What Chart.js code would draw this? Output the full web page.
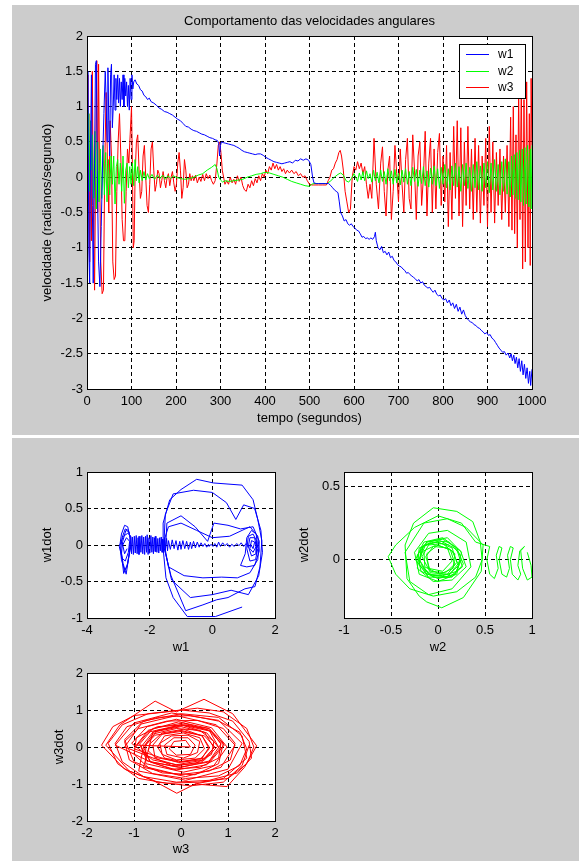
<!DOCTYPE html>
<html>
<head>
<meta charset="utf-8">
<script src="https://cdn.jsdelivr.net/npm/chart.js@4.4.1/dist/chart.umd.min.js"></script>
<style>
  body { margin: 0; background: #fff; width: 579px; height: 861px; overflow: hidden; position: relative; }
  .fig { position: absolute; background: #cccccc; }
  canvas { position: absolute; }
</style>
</head>
<body>
<div class="fig" style="left:12px;top:5px;width:567px;height:430px"></div>
<div class="fig" style="left:12px;top:438px;width:567px;height:423px"></div>
<canvas id="cTempo" width="567" height="430" style="left:12px;top:5px"></canvas>
<canvas id="cW1" width="280" height="222" style="left:12px;top:438px"></canvas>
<canvas id="cW2" width="289" height="222" style="left:290px;top:438px"></canvas>
<canvas id="cW3" width="280" height="200" style="left:12px;top:661px"></canvas>
<script>
// velocidades angulares no tempo: [tempo (s), w (rad/s)]
const w1Serie = [
  [0,0.9],[2,1.5],[4,-1.0],[6,-1.5],[8,0.4],[10,1.45],[12,-0.4],[14,-1.5],[17,0.2],[19,1.6],
  [21,1.65],[23,0.1],[26,-1.2],[29,-1.55],[32,-0.7],[35,0.2],[38,0.9],[41,1.5],[43,1.1],[45,0.5],
  [47,1.55],[49,0.8],[51,0.3],[53,1.45],[55,1.6],[57,0.7],[59,1.0],[61,1.45],[63,0.95],[65,1.4],
  [67,1.1],[69,1.45],[71,1.05],[73,1.4],[75,1.0],[77,1.35],[79,1.1],[81,1.45],[83,1.0],[85,1.4],
  [87,1.15],[89,1.35],[91,1.0],[93,1.3],[95,0.95],[97,1.4],[99,1.1],[101,1.45],[103,1.25],[105,1.35],
  [108,1.38],[112,1.32],[116,1.3],[120,1.24],[124,1.22],[128,1.16],[132,1.14],[136,1.1],[140,1.12],[144,1.07],
  [150,1.05],[156,1.02],[162,0.98],[168,0.96],[174,0.93],[180,0.92],[186,0.9],[192,0.88],[198,0.85],[204,0.82],
  [210,0.8],[216,0.76],[222,0.72],[228,0.71],[234,0.68],[240,0.66],[246,0.65],[252,0.63],[258,0.61],[264,0.6],
  [270,0.58],[276,0.56],[282,0.55],[288,0.53],[293,0.52],[296,0.48],[298,0.3],[300,0.45],[302,0.5],[306,0.49],
  [312,0.48],[318,0.47],[324,0.46],[330,0.45],[336,0.43],[342,0.41],[348,0.38],[354,0.36],[360,0.35],[366,0.34],
  [372,0.33],[378,0.32],[384,0.33],[390,0.33],[396,0.31],[402,0.28],[408,0.26],[414,0.24],[420,0.22],[426,0.21],
  [432,0.2],[438,0.19],[444,0.2],[450,0.21],[456,0.22],[462,0.2],[468,0.24],[474,0.23],[480,0.26],[486,0.24],
  [492,0.26],[498,0.24],[503,0.18],[507,0.0],[510,-0.08],[515,-0.09],[520,-0.09],[528,-0.09],[536,-0.09],[543,-0.09],
  [548,-0.12],[552,-0.15],[556,-0.18],[560,-0.2],[564,-0.22],[567,-0.35],[570,-0.5],[574,-0.55],[578,-0.62],[582,-0.6],
  [586,-0.66],[590,-0.68],[594,-0.66],[598,-0.7],[602,-0.72],[606,-0.75],[610,-0.76],[614,-0.8],[618,-0.85],[622,-0.84],
  [626,-0.87],[630,-0.86],[634,-0.88],[638,-0.86],[642,-0.88],[646,-0.84],[648,-0.78],[650,-0.9],[654,-1.0],[658,-1.03],
  [662,-0.98],[666,-1.07],[670,-1.05],[674,-1.1],[678,-1.06],[682,-1.14],[686,-1.12],[690,-1.18],[694,-1.2],[698,-1.24],
  [702,-1.26],[706,-1.27],[710,-1.3],[714,-1.32],[718,-1.36],[722,-1.35],[726,-1.38],[730,-1.4],[734,-1.42],[738,-1.44],
  [742,-1.47],[746,-1.45],[750,-1.5],[754,-1.48],[758,-1.53],[762,-1.55],[766,-1.57],[770,-1.56],[774,-1.6],[778,-1.63],
  [782,-1.6],[786,-1.66],[790,-1.68],[794,-1.67],[798,-1.72],[802,-1.74],[806,-1.72],[810,-1.78],[814,-1.74],[818,-1.82],
  [822,-1.78],[826,-1.86],[830,-1.8],[834,-1.9],[838,-1.84],[842,-1.94],[846,-1.88],[850,-1.96],[854,-2.0],[858,-2.03],
  [862,-2.05],[866,-2.06],[870,-2.09],[874,-2.1],[878,-2.13],[882,-2.14],[886,-2.17],[890,-2.19],[894,-2.22],[898,-2.2],
  [902,-2.24],[906,-2.23],[910,-2.28],[914,-2.3],[918,-2.34],[922,-2.38],[926,-2.42],[930,-2.45],[934,-2.48],[938,-2.47],
  [942,-2.52],[946,-2.49],[950,-2.56],[953,-2.5],[956,-2.6],[959,-2.52],[962,-2.64],[965,-2.55],[968,-2.7],[971,-2.57],
  [974,-2.75],[977,-2.6],[980,-2.8],[983,-2.65],[986,-2.85],[989,-2.7],[992,-2.92],[995,-2.75],[997,-2.95],[1000,-2.72]
];
const w2Serie = [
  [0,0.95],[2,0.3],[4,0.9],[6,-0.2],[8,0.8],[10,0.1],[12,0.6],[15,-0.3],[18,0.65],[21,-0.45],
  [24,0.5],[27,-0.35],[30,0.4],[33,-0.3],[36,0.45],[39,-0.25],[42,0.35],[45,-0.35],[48,0.25],[51,-0.25],
  [54,0.3],[57,-0.1],[60,0.3],[63,-0.38],[66,0.15],[69,0.25],[72,-0.1],[75,0.2],[78,-0.2],[81,0.3],
  [84,-0.37],[87,0.1],[90,0.2],[93,-0.15],[96,0.15],[99,-0.1],[102,0.2],[105,-0.12],[108,0.25],[111,-0.05],
  [114,0.15],[117,-0.08],[120,0.1],[124,-0.05],[128,0.08],[132,-0.04],[136,0.05],[140,-0.02],[146,0.04],[152,-0.03],
  [158,0.03],[164,-0.02],[170,0.03],[176,-0.03],[182,0.02],[188,-0.02],[194,0.02],[200,0.0],[210,-0.02],[220,-0.03],
  [230,-0.02],[240,0.0],[250,0.03],[260,0.05],[270,0.1],[280,0.14],[288,0.18],[292,0.12],[296,0.0],[300,-0.04],
  [305,-0.07],[310,-0.05],[320,-0.06],[330,-0.05],[340,-0.04],[350,-0.03],[360,0.0],[370,0.02],[380,0.04],[390,0.05],
  [400,0.07],[410,0.06],[420,0.04],[430,0.02],[440,0.0],[450,-0.03],[460,-0.06],[470,-0.08],[480,-0.1],[490,-0.12],
  [500,-0.13],[505,-0.1],[510,-0.09],[520,-0.09],[530,-0.09],[540,-0.09],[548,-0.05],[556,0.0],[564,0.04],[570,0.06],
  [576,0.03],[582,-0.05],[588,-0.07],[594,-0.02],[600,0.05],[604,0.0],[608,-0.06],[612,0.06],[616,-0.04],[620,0.08],
  [624,-0.05],[628,0.09],[632,-0.02],[636,0.05],[640,-0.07],[644,0.1],[648,-0.05],[652,0.07],[656,-0.08],[660,0.1],
  [664,-0.06],[668,0.08],[672,-0.1],[676,0.12],[680,-0.05],[684,0.09],[688,-0.1],[692,0.11],[696,-0.08],[700,0.06],
  [704,-0.11],[708,0.1],[712,-0.07],[716,0.12],[720,-0.1],[724,0.08],[728,-0.12],[732,0.14],[736,-0.06],[740,0.11],
  [744,-0.13],[748,0.1],[752,-0.09],[756,0.15],[760,-0.12],[764,0.09],[768,-0.14],[772,0.13],[776,-0.1],[780,0.16],
  [784,-0.12],[788,0.12],[792,-0.16],[796,0.14],[800,-0.1],[804,0.18],[808,-0.15],[812,0.12],[816,-0.18],[820,0.16],
  [824,-0.12],[828,0.2],[832,-0.14],[836,0.15],[840,-0.2],[844,0.18],[848,-0.12],[852,0.2],[856,-0.16],[860,0.14],
  [864,-0.2],[868,0.18],[872,-0.15],[876,0.22],[880,-0.18],[884,0.16],[888,-0.2],[892,0.2],[896,-0.15],[900,0.22],
  [904,-0.22],[908,0.2],[912,-0.18],[916,0.25],[920,-0.2],[924,0.18],[928,-0.25],[932,0.22],[936,-0.2],[940,0.26],
  [944,-0.24],[948,0.22],[951,-0.28],[954,0.3],[957,-0.25],[960,0.32],[963,-0.3],[966,0.35],[969,-0.32],[972,0.38],
  [975,-0.35],[978,0.4],[981,-0.4],[984,0.42],[987,-0.38],[990,0.45],[993,-0.42],[996,0.4],[998,-0.45],[1000,0.45]
];
const w3Serie = [
  [0,1.45],[2,-0.4],[4,0.9],[6,-1.2],[8,0.6],[10,-0.9],[12,1.5],[14,-0.3],[17,-1.6],[20,0.5],
  [22,1.65],[24,-0.5],[26,1.6],[28,0.2],[31,-1.2],[34,-1.65],[37,-1.6],[40,0.2],[43,1.2],[46,0.2],
  [49,-0.5],[52,0.8],[55,0.3],[58,-1.2],[61,-1.45],[64,-1.4],[67,-0.2],[70,0.5],[73,0.9],[76,0.3],
  [79,-0.6],[82,-0.9],[85,-0.9],[88,-0.2],[91,0.4],[94,0.2],[97,0.6],[100,1.0],[102,0.2],[104,-1.0],
  [106,-0.9],[108,0.0],[111,0.5],[114,0.6],[117,0.1],[120,-0.3],[123,-0.2],[126,0.3],[129,0.45],[132,0.0],
  [135,-0.4],[138,-0.5],[141,-0.1],[144,0.4],[147,0.5],[150,0.1],[153,-0.2],[156,-0.1],[159,0.1],[162,0.05],
  [165,-0.15],[168,-0.05],[171,0.08],[174,-0.05],[177,-0.15],[180,0.0],[183,0.05],[186,-0.12],[189,0.0],[192,0.08],
  [195,-0.08],[198,-0.2],[201,-0.1],[204,0.2],[207,0.35],[210,0.1],[213,-0.3],[216,-0.15],[219,0.25],[222,0.1],
  [225,-0.15],[228,-0.1],[231,0.05],[234,-0.05],[237,0.02],[240,-0.05],[244,0.03],[248,-0.08],[252,0.0],[256,-0.06],
  [260,0.04],[264,-0.05],[268,0.05],[272,-0.02],[276,0.03],[280,-0.05],[284,-0.1],[288,-0.05],[292,0.2],[295,0.45],
  [298,0.5],[301,0.35],[304,0.1],[307,0.0],[310,-0.1],[314,-0.05],[318,-0.1],[322,0.0],[326,-0.08],[330,-0.03],
  [334,-0.1],[338,0.02],[342,-0.06],[346,0.0],[350,-0.12],[354,-0.18],[358,-0.2],[362,-0.1],[366,-0.15],[370,-0.05],
  [374,-0.12],[378,-0.02],[382,-0.08],[386,0.02],[390,-0.05],[394,0.05],[398,0.0],[402,0.1],[406,0.05],[410,0.15],
  [414,0.1],[418,0.2],[422,0.12],[426,0.18],[430,0.1],[434,0.15],[438,0.08],[442,0.12],[446,0.05],[450,0.1],
  [455,0.06],[460,0.1],[465,0.05],[470,0.08],[475,0.02],[480,0.05],[485,0.0],[490,0.02],[495,-0.05],[500,-0.1],
  [505,-0.11],[510,-0.11],[520,-0.11],[530,-0.11],[538,-0.11],[542,-0.05],[546,0.0],[550,0.1],[554,0.12],[558,0.2],
  [562,0.25],[566,0.35],[569,0.38],[572,0.3],[576,0.1],[580,-0.2],[584,-0.35],[588,-0.5],[592,-0.45],[596,0.0],
  [600,0.15],[604,0.1],[608,0.22],[612,0.12],[616,0.2],[620,0.05],[624,0.15],[628,-0.1],[632,-0.3],[636,-0.1],
  [640,-0.3],[645,0.55],[650,-0.1],[655,-0.45],[660,0.2],[664,0.43],[668,-0.2],[672,-0.55],[676,0.1],[680,0.3],
  [684,-0.6],[688,-0.2],[692,0.45],[696,0.05],[700,-0.35],[704,0.4],[708,-0.1],[712,-0.5],[716,0.25],[720,0.55],
  [724,-0.3],[728,-0.45],[732,0.6],[736,0.1],[740,-0.6],[744,0.3],[748,0.5],[752,-0.4],[756,0.0],[760,0.65],
  [764,-0.55],[768,0.2],[772,0.55],[776,-0.5],[780,0.4],[784,-0.45],[788,0.35],[792,0.62],[796,-0.4],[800,0.3],
  [804,-0.35],[808,0.45],[812,-0.7],[816,0.35],[820,-0.6],[824,0.72],[828,-0.3],[832,0.8],[836,-0.55],[840,0.7],
  [844,-0.7],[848,0.5],[852,-0.4],[856,0.72],[860,-0.45],[864,0.4],[868,-0.6],[872,0.55],[876,-0.5],[880,0.45],
  [884,-0.65],[888,0.3],[892,-0.4],[896,0.55],[900,-0.7],[904,0.72],[908,-0.5],[912,0.5],[916,-0.65],[920,0.35],
  [924,-0.4],[928,0.4],[932,-0.6],[936,0.3],[940,-0.5],[944,0.45],[948,-0.7],[952,0.85],[955,-0.75],[958,1.0],
  [961,-0.8],[964,0.6],[967,-1.0],[970,1.2],[973,-0.6],[976,1.4],[979,-1.3],[982,1.1],[985,-1.2],[988,1.35],
  [991,-1.0],[994,0.9],[996,-1.25],[998,1.4],[1000,0.45]
];

// planos de fase: [w, wdot]
const w1Fase = [
  [0.95,-0.85],[0.1,-0.98],[-0.8,-0.98],[-1.25,-0.72],[-1.48,-0.45],[-1.57,-0.05],[-1.57,0.3],[-1.36,0.62],[-1.0,0.76],[-0.5,0.9],
  [0.03,0.85],[0.95,0.82],[1.3,0.62],[1.45,0.35],[1.58,0.06],[1.52,-0.3],[1.36,-0.57],[1.04,-0.6],[0.5,-0.72],[0.14,-0.75],
  [-0.3,-0.82],[-0.85,-0.9],[-1.32,-0.42],[-1.55,-0.02],[-1.5,0.42],[-1.25,0.7],[-0.6,0.75],[0.0,0.72],[0.45,0.58],[0.75,0.35],
  [1.0,0.55],[1.35,0.5],[1.55,0.2],[1.6,-0.1],[1.48,-0.42],[1.15,-0.68],[0.6,-0.62],[0.0,-0.68],[-0.7,-0.72],[-1.3,-0.48],
  [-1.5,-0.1],[-1.45,0.3],[-1.0,0.4],[-0.55,0.25],[-0.15,0.05],[0.05,0.3],[0.5,0.27],[0.9,0.22],[1.3,0.25],[1.5,0.05],
  [1.45,-0.2],[1.2,-0.38],[0.8,-0.45],[0.3,-0.44],[-0.3,-0.45],[-0.9,-0.42],[-1.4,-0.3],[-1.55,0.05],[-1.4,0.25],[-1.0,0.3],
  [-0.5,0.2],[0.0,0.1],[0.55,0.12],[0.95,0.2],[1.2,0.25],[1.45,0.12],[1.5,-0.08],[1.35,-0.28],[1.1,-0.3],[0.9,-0.28],
  [1.05,-0.12],[1.1,0.1],[1.25,0.2],[1.4,0.15],[1.45,-0.05],[1.38,-0.2],[1.2,-0.22],[1.1,-0.05],[1.15,0.12],[1.3,0.15],
  [1.42,0.05],[1.4,-0.12],[1.25,-0.15],[1.15,-0.02],[1.2,0.1],[1.35,0.1],[1.4,-0.02],[1.3,-0.1],[1.2,-0.05],[1.25,0.06],
  [1.35,0.04],[1.3,-0.05],[1.22,0.01],[1.15,-0.03],[1.08,0.02],[1.0,-0.02],[0.92,0.03],[0.85,-0.01],[0.78,0.02],[0.7,-0.02],
  [0.62,0.01],[0.55,-0.03],[0.48,0.02],[0.4,-0.01],[0.33,0.03],[0.26,-0.02],[0.2,0.04],[0.14,-0.03],[0.08,0.02],[0.02,-0.02],
  [-0.04,0.01],[-0.1,-0.02],[-0.12,0.01],[-0.18,-0.03],[-0.24,0.02],[-0.3,-0.02],[-0.36,0.03],[-0.42,-0.03],[-0.48,0.04],[-0.54,-0.04],
  [-0.6,0.05],[-0.66,-0.05],[-0.7,0.04],[-0.76,-0.06],[-0.82,0.05],[-0.88,-0.05],[-0.94,0.06],[-1.0,-0.06],[-1.04,0.05],[-1.1,-0.07],
  [-1.16,0.06],[-1.22,-0.05],[-1.28,0.07],[-1.34,-0.06],[-1.4,0.06],[-1.43,-0.08],[-1.46,0.09],[-1.5,-0.07],[-1.52,0.1],[-1.55,-0.09],
  [-1.58,0.08],[-1.6,-0.1],[-1.63,0.11],[-1.66,-0.08],[-1.68,0.1],[-1.71,-0.11],[-1.74,0.09],[-1.77,-0.1],[-1.8,0.12],[-1.82,-0.09],
  [-1.85,0.1],[-1.88,-0.12],[-1.9,0.11],[-1.93,-0.1],[-1.96,0.13],[-1.99,-0.11],[-2.02,0.1],[-2.05,-0.13],[-2.08,0.14],[-2.1,-0.1],
  [-2.13,0.12],[-2.16,-0.13],[-2.19,0.11],[-2.22,-0.12],[-2.25,0.13],[-2.28,-0.1],[-2.31,0.12],[-2.34,-0.13],[-2.37,0.1],[-2.4,-0.12],
  [-2.43,0.13],[-2.46,-0.11],[-2.49,0.12],[-2.52,-0.13],[-2.55,0.11],[-2.58,-0.12],[-2.6,0.1],[-2.65,0.15],[-2.7,0.25],[-2.8,0.27],
  [-2.9,0.15],[-2.95,0.0],[-2.9,-0.2],[-2.8,-0.35],[-2.72,-0.3],[-2.65,-0.1],[-2.62,0.1],[-2.68,0.2],[-2.78,0.22],[-2.88,0.1],
  [-2.92,-0.05],[-2.85,-0.25],[-2.75,-0.4],[-2.68,-0.2],[-2.6,0.0],[-2.66,0.18],[-2.76,0.2],[-2.86,0.05],[-2.9,-0.12],[-2.83,-0.39],
  [-2.7,-0.25],[-2.62,-0.05],[-2.6,0.12],[-2.7,0.16],[-2.84,0.12],[-2.97,-0.02],[-2.88,-0.18],[-2.78,-0.22],[-2.68,-0.1],[-2.64,0.05],
  [-2.74,0.1],[-2.86,0.0],[-2.8,-0.12],[-2.72,-0.05]
];
const w2Fase = [
  [0.95,0.05],[0.99,-0.04],[1.0,-0.12],[0.95,-0.14],[0.9,-0.06],[0.88,0.06],[0.92,0.09],[0.87,0.06],[0.85,-0.04],[0.88,-0.1],
  [0.85,-0.14],[0.79,-0.1],[0.77,0.0],[0.8,0.08],[0.77,0.09],[0.74,0.03],[0.76,-0.06],[0.73,-0.12],[0.68,-0.1],[0.65,0.0],
  [0.68,0.08],[0.65,0.09],[0.62,0.03],[0.64,-0.06],[0.6,-0.13],[0.55,-0.1],[0.52,0.0],[0.55,0.09],[0.5,0.1],[0.4,0.12],
  [0.25,0.25],[0.0,0.3],[-0.25,0.22],[-0.45,0.1],[-0.53,0.02],[-0.45,-0.1],[-0.3,-0.2],[-0.05,-0.25],[0.2,-0.22],[0.4,-0.12],
  [0.47,0.0],[0.45,0.12],[0.37,0.26],[0.2,0.33],[-0.05,0.355],[-0.26,0.25],[-0.35,0.1],[-0.33,-0.13],[-0.2,-0.25],[-0.12,-0.29],
  [0.04,-0.33],[0.27,-0.26],[0.46,-0.08],[0.48,0.1],[0.3,0.22],[0.1,0.28],[-0.15,0.25],[-0.35,0.05],[-0.3,-0.15],[-0.1,-0.24],
  [0.15,-0.2],[0.35,-0.05],[0.3,0.12],[0.1,0.2],[-0.1,0.18],[-0.25,0.05],[-0.2,-0.1],[0.0,-0.15],[0.2,-0.1],[0.25,0.05],
  [0.1,0.15],[-0.12,0.12],[-0.2,0.0],[-0.1,-0.1],[0.1,-0.12],[0.25,0.0],[0.18,-0.1],[0.0,-0.13],[-0.18,-0.08],[-0.22,0.03],
  [-0.12,0.12],[0.05,0.14],[0.2,0.08],[0.27,-0.03],[0.15,-0.12],[-0.05,-0.12],[-0.2,-0.04],[-0.18,0.08],[-0.05,0.13],[0.12,0.12],
  [0.24,0.03],[0.2,-0.08],[0.05,-0.11],[-0.12,-0.1],[-0.2,0.0],[-0.15,0.1],[0.0,0.12],[0.15,0.08],[0.2,-0.02],[0.1,-0.1],
  [-0.08,-0.09],[-0.17,0.02],[-0.1,0.1],[0.05,0.11],[0.18,0.04],[0.16,-0.06],[0.02,-0.1],[-0.14,-0.05],[-0.15,0.06],[-0.02,0.1],
  [0.13,0.07],[0.18,-0.03],[0.08,-0.09],[-0.08,-0.08],[-0.13,0.02],[-0.05,0.09],[0.1,0.08],[0.15,-0.01],[0.05,-0.08],[-0.1,-0.06],
  [-0.12,0.04],[0.0,0.1],[0.15,0.06],[0.22,-0.04],[0.12,-0.1],[-0.06,-0.11],[-0.2,-0.03],[-0.16,0.09],[0.02,0.13],[0.2,0.07],
  [0.26,-0.05],[0.12,-0.12],[-0.1,-0.12],[-0.24,0.0],[-0.15,0.12],[0.05,0.15],[0.24,0.06],[0.3,-0.05],[0.15,-0.14],[-0.05,-0.15],
  [-0.22,-0.06],[-0.2,0.08],[-0.05,0.12],[0.12,0.1]
];
const w3Fase = [
  [1.45,0.05],[1.3,-0.5],[0.9,-0.95],[0.2,-1.05],[-0.5,-0.95],[-1.1,-0.65],[-1.6,0.05],[-1.3,0.6],[-0.55,1.24],[-0.1,0.95],
  [0.49,1.29],[1.1,0.9],[1.61,0.03],[1.35,-0.55],[0.98,-1.07],[0.3,-1.0],[-0.09,-1.25],[-0.6,-0.9],[-1.2,-0.6],[-1.69,0.05],
  [-1.45,0.55],[-1.0,0.85],[-0.3,0.95],[0.35,1.05],[0.9,0.95],[1.4,0.5],[1.55,0.0],[1.4,-0.45],[1.0,-0.85],[0.4,-0.95],
  [-0.3,-0.98],[-0.9,-0.85],[-1.35,-0.45],[-1.55,0.1],[-1.25,0.6],[-0.7,0.9],[0.0,1.0],[0.6,0.92],[1.1,0.7],[1.45,0.15],
  [1.5,-0.3],[1.2,-0.7],[0.6,-0.9],[-0.1,-0.95],[-0.8,-0.8],[-1.25,-0.4],[-1.4,0.1],[-1.15,0.55],[-0.5,0.8],[0.2,0.85],
  [0.8,0.7],[1.25,0.4],[1.4,-0.05],[1.25,-0.5],[0.8,-0.78],[0.1,-0.85],[-0.6,-0.72],[-1.1,-0.35],[-1.2,0.15],[-0.9,0.5],
  [-0.3,0.7],[0.35,0.72],[0.9,0.5],[1.15,0.1],[1.05,-0.35],[0.6,-0.65],[-0.05,-0.75],[-0.7,-0.55],[-1.0,-0.2],[-0.95,0.25],
  [-0.5,0.55],[0.1,0.6],[0.6,0.45],[0.85,0.1],[0.8,-0.3],[0.4,-0.55],[-0.2,-0.6],[-0.65,-0.4],[-0.8,0.0],[-0.6,0.35],
  [-0.1,0.5],[0.4,0.45],[0.7,0.15],[0.65,-0.2],[0.3,-0.45],[-0.2,-0.5],[-0.55,-0.3],[-0.6,0.05],[-0.4,0.35],[0.0,0.45],
  [0.45,0.3],[0.6,0.0],[0.45,-0.3],[0.05,-0.4],[-0.35,-0.3],[-0.5,0.0],[-0.35,0.3],[0.05,0.38],[0.4,0.25],[0.5,-0.05],
  [0.3,-0.3],[-0.1,-0.35],[-0.4,-0.2],[-0.45,0.1],[-0.2,0.3],[0.15,0.32],[0.4,0.15],[0.35,-0.15],[0.05,-0.3],[-0.3,-0.2],
  [-0.35,0.05],[-0.15,0.25],[0.15,0.25],[0.3,0.05],[0.2,-0.2],[-0.1,-0.22],[-0.25,-0.05],[-0.15,0.15],[0.1,0.18],[0.2,0.0],
  [-0.95,0.05],[-0.7,0.45],[-0.05,0.68],[0.6,0.5],[0.85,0.08],[0.6,-0.38],[0.0,-0.55],[-0.65,-0.4],[-0.85,0.0],[-0.6,0.4],
  [0.0,0.55],[0.55,0.38],[0.78,0.02],[0.5,-0.35],[-0.1,-0.48],[-0.6,-0.35],[-1.05,0.1],[-0.72,0.55],[-0.1,0.75],[0.65,0.52],
  [0.98,0.0],[0.7,-0.5],[0.05,-0.68],[-0.75,-0.45],[-0.75,0.05],[-0.5,0.45],[0.05,0.58],[0.5,0.4],[0.7,-0.02],[0.45,-0.4],
  [-0.05,-0.5],[-0.55,-0.32],[-1.2,0.0],[-0.85,0.62],[-0.1,0.85],[0.75,0.6],[1.15,0.05],[0.85,-0.55],[0.1,-0.8],[-0.8,-0.55],
  [-0.65,0.1],[-0.4,0.38],[0.05,0.48],[0.45,0.3],[0.6,-0.05],[0.4,-0.35],[-0.05,-0.42],[-0.45,-0.28],[-1.0,-0.05],[-0.7,0.4],
  [0.0,0.6],[0.65,0.42],[0.92,0.05],[0.62,-0.4],[-0.05,-0.55],[-0.72,-0.38],[-0.88,0.08],[-0.6,0.5],[0.05,0.65],[0.6,0.45],
  [0.82,-0.05],[0.55,-0.48],[-0.1,-0.62],[-0.62,-0.42],[-1.4,0.05],[-1.0,0.65],[-0.2,0.92],[0.8,0.72],[1.3,0.1],[1.0,-0.6],
  [0.1,-0.9],[-0.9,-0.65],[-0.8,0.0],[-0.55,0.32],[0.0,0.42],[0.5,0.3],[0.72,0.0],[0.5,-0.3],[-0.05,-0.4],[-0.55,-0.28],
  [-0.7,-0.1],[-0.6,0.4],[0.0,0.6],[0.6,0.5],[0.9,0.1],[0.8,-0.45],[0.3,-0.75],[-0.4,-0.7],[-1.0,-0.4],[-1.2,0.2],
  [-0.8,0.7],[0.0,0.9],[0.8,0.8],[1.3,0.3],[1.4,-0.3],[0.9,-0.85],[0.3,-1.0]
];

// marcas e limites dos eixos
const tempoTicks = [0,100,200,300,400,500,600,700,800,900,1000];
const velTicks = [-3,-2.5,-2,-1.5,-1,-0.5,0,0.5,1,1.5,2];
const w1Ticks = [-4,-2,0,2];
const w1dotTicks = [-1,-0.5,0,0.5,1];
const w2Ticks = [-1,-0.5,0,0.5,1];
const w2dotTicks = [0,0.5];
const w2dotLim = [-0.4,0.6];
const w3Ticks = [-2,-1,0,1,2];
const w3dotTicks = [-2,-1,0,1,2];

const FONTE = "'Liberation Sans', Arial, Helvetica, sans-serif";
Chart.defaults.font.family = FONTE;
Chart.defaults.font.size = 13;
Chart.defaults.color = '#000';

const AZUL = '#0000ff', VERDE = '#00ff00', VERMELHO = '#ff0000';

const toXY = arr => arr.map(p => ({ x: p[0], y: p[1] }));

// fundo branco da área de plotagem, caixa preta e texto extra
const caixa = {
  id: 'caixa',
  beforeDraw(chart) {
    const a = chart.chartArea, ctx = chart.ctx;
    ctx.save();
    ctx.fillStyle = '#fff';
    ctx.fillRect(a.left, a.top, a.right - a.left, a.bottom - a.top);
    ctx.restore();
  },
  afterDraw(chart, args, opts) {
    const a = chart.chartArea, ctx = chart.ctx;
    ctx.save();
    ctx.strokeStyle = '#000';
    ctx.lineWidth = 1;
    ctx.strokeRect(a.left + 0.5, a.top + 0.5, a.right - a.left, a.bottom - a.top);
    if (opts.titulo) {
      ctx.fillStyle = '#000';
      ctx.font = '13px ' + FONTE;
      ctx.textAlign = 'center';
      ctx.textBaseline = 'middle';
      ctx.fillText(opts.titulo, (a.left + a.right) / 2, opts.tituloY);
    }
    if (opts.legenda) {
      const L = opts.legenda;
      ctx.fillStyle = '#fff';
      ctx.fillRect(L.x, L.y, L.w, L.h);
      ctx.strokeRect(L.x + 0.5, L.y + 0.5, L.w, L.h);
      ctx.font = '12px ' + FONTE;
      ctx.textAlign = 'left';
      ctx.textBaseline = 'middle';
      chart.data.datasets.forEach((ds, i) => {
        const y = Math.round(L.y + 10 + i * 16.7) + 0.5;
        ctx.strokeStyle = ds.borderColor;
        ctx.beginPath();
        ctx.moveTo(L.x + 7, y);
        ctx.lineTo(L.x + 30, y);
        ctx.stroke();
        ctx.fillStyle = '#000';
        ctx.fillText(ds.label, L.x + 39, y);
      });
    }
    ctx.restore();
  }
};

function eixo(ticks, min, max, titulo, tamanho, titPad, horizontal) {
  return {
    type: 'linear',
    min: min,
    max: max,
    afterBuildTicks: s => { s.ticks = ticks.map(v => ({ value: v })); },
    afterFit: s => { if (horizontal) s.height = tamanho; else s.width = tamanho; },
    grid: { color: '#000', lineWidth: 1, drawTicks: false },
    border: { display: false, dash: [4, 3] },
    ticks: {
      padding: horizontal ? 5 : 4,
      maxRotation: 0,
      autoSkip: false,
      color: '#000',
      font: { size: 13 },
      callback: v => String(v)
    },
    title: {
      display: true,
      text: titulo,
      color: '#000',
      font: { size: 13 },
      padding: horizontal ? { top: 0, bottom: titPad } : { top: titPad, bottom: 0 }
    }
  };
}

function linha(label, dados, cor) {
  return {
    label: label,
    data: toXY(dados),
    borderColor: cor,
    borderWidth: 1,
    pointRadius: 0,
    showLine: true,
    tension: 0,
    fill: false
  };
}

function grafico(id, datasets, escalaX, escalaY, padding, opcoesCaixa) {
  return new Chart(document.getElementById(id), {
    type: 'scatter',
    data: { datasets: datasets },
    options: {
      responsive: false,
      animation: false,
      events: [],
      layout: { padding: padding },
      scales: { x: escalaX, y: escalaY },
      plugins: {
        legend: { display: false },
        tooltip: { enabled: false },
        caixa: opcoesCaixa || {}
      }
    },
    plugins: [caixa]
  });
}

// velocidades angulares ao longo do tempo
grafico('cTempo',
  [linha('w1', w1Serie, AZUL), linha('w2', w2Serie, VERDE), linha('w3', w3Serie, VERMELHO)],
  eixo(tempoTicks, 0, 1000, 'tempo (segundos)', 46, 9, true),
  eixo(velTicks, -3, 2, 'velocidade (radianos/segundo)', 75, 28, false),
  { top: 31, right: 47, left: 0, bottom: 0 },
  { titulo: 'Comportamento das velocidades angulares', tituloY: 16,
    legenda: { x: 447, y: 39, w: 66, h: 54 } }
);

// planos de fase
grafico('cW1', [linha('w1', w1Fase, AZUL)],
  eixo(w1Ticks, -4, 2, 'w1', 42, 5, true),
  eixo(w1dotTicks, -1, 1, 'w1dot', 75, 28, false),
  { top: 34, right: 17, left: 0, bottom: 0 });

grafico('cW2', [linha('w2', w2Fase, VERDE)],
  eixo(w2Ticks, -1, 1, 'w2', 42, 5, true),
  eixo(w2dotTicks, w2dotLim[0], w2dotLim[1], 'w2dot', 54, 7, false),
  { top: 34, right: 47, left: 0, bottom: 0 });

grafico('cW3', [linha('w3', w3Fase, VERMELHO)],
  eixo(w3Ticks, -2, 2, 'w3', 40, 4, true),
  eixo(w3dotTicks, -2, 2, 'w3dot', 75, 40, false),
  { top: 12, right: 17, left: 0, bottom: 0 });
</script>
</body>
</html>
